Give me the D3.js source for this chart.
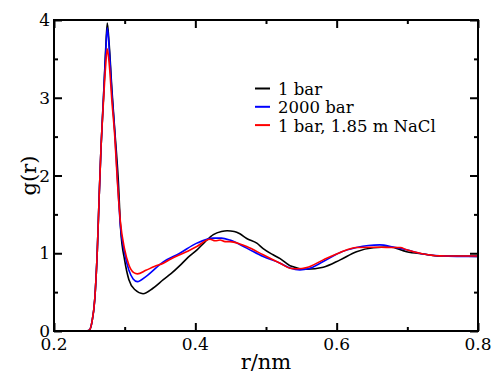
<!DOCTYPE html>
<html>
<head>
<meta charset="utf-8">
<script src="https://cdn.jsdelivr.net/npm/d3@7"></script>
<style>
  body { margin: 0; background: #fff; }
</style>
</head>
<body>
<div id="chart"></div>
<script>
// r (nm) sample positions and g(r) per series
var r1bar = [0.200, 0.245, 0.250, 0.2538, 0.2576, 0.2613, 0.264, 0.2665, 0.270, 0.273, 0.2754, 0.278, 0.282, 0.286, 0.2909, 0.2944, 0.300, 0.306, 0.3146, 0.326, 0.340, 0.3547, 0.366, 0.378, 0.390, 0.402, 0.414, 0.4255, 0.437, 0.445, 0.455, 0.463, 0.4727, 0.487, 0.496, 0.510, 0.520, 0.534, 0.5576, 0.581, 0.605, 0.628, 0.652, 0.675, 0.699, 0.7226, 0.746, 0.770, 0.800];
var g1bar = [0, 0, 0.01, 0.12, 0.40, 1.04, 1.75, 2.35, 3.00, 3.60, 3.96, 3.70, 3.10, 2.58, 1.95, 1.30, 0.91, 0.66, 0.53, 0.48, 0.55, 0.66, 0.74, 0.84, 0.95, 1.04, 1.15, 1.24, 1.28, 1.29, 1.28, 1.25, 1.19, 1.13, 1.06, 0.98, 0.93, 0.84, 0.795, 0.82, 0.915, 1.02, 1.07, 1.08, 1.02, 0.99, 0.966, 0.965, 0.96];

var r2000 = [0.200, 0.245, 0.250, 0.2538, 0.2576, 0.2613, 0.264, 0.2665, 0.270, 0.273, 0.2754, 0.278, 0.282, 0.286, 0.2898, 0.294, 0.300, 0.306, 0.312, 0.318, 0.330, 0.3547, 0.378, 0.402, 0.4255, 0.437, 0.449, 0.4727, 0.496, 0.520, 0.534, 0.548, 0.560, 0.581, 0.605, 0.628, 0.645, 0.661, 0.680, 0.699, 0.7226, 0.746, 0.770, 0.800];
var g2000 = [0, 0, 0.01, 0.12, 0.40, 1.04, 1.75, 2.35, 3.00, 3.55, 3.90, 3.65, 3.05, 2.55, 1.95, 1.35, 1.00, 0.78, 0.67, 0.635, 0.70, 0.89, 1.00, 1.13, 1.195, 1.195, 1.17, 1.066, 0.958, 0.872, 0.81, 0.786, 0.80, 0.893, 1.01, 1.073, 1.10, 1.108, 1.08, 1.044, 0.99, 0.966, 0.96, 0.96];

var rNaCl = [0.200, 0.245, 0.250, 0.2538, 0.2576, 0.2613, 0.264, 0.2665, 0.270, 0.273, 0.2754, 0.278, 0.282, 0.286, 0.2895, 0.294, 0.300, 0.306, 0.313, 0.318, 0.330, 0.342, 0.3547, 0.366, 0.378, 0.390, 0.402, 0.4208, 0.428, 0.435, 0.442, 0.449, 0.463, 0.4727, 0.496, 0.520, 0.534, 0.545, 0.5576, 0.581, 0.605, 0.628, 0.652, 0.670, 0.690, 0.699, 0.7226, 0.746, 0.770, 0.800];
var gNaCl = [0, 0, 0.01, 0.12, 0.40, 1.04, 1.75, 2.35, 2.95, 3.40, 3.63, 3.45, 2.95, 2.50, 1.95, 1.40, 1.05, 0.85, 0.75, 0.735, 0.78, 0.83, 0.872, 0.93, 0.98, 1.03, 1.086, 1.18, 1.16, 1.17, 1.15, 1.15, 1.12, 1.086, 0.98, 0.872, 0.808, 0.80, 0.816, 0.915, 1.01, 1.073, 1.078, 1.075, 1.073, 1.044, 0.99, 0.966, 0.965, 0.965];

var seriesNames = ['1 bar', '2000 bar', '1 bar, 1.85 m NaCl'];
var seriesColors = ['#000000', '#0000ff', '#ff0000'];

var xMajor = [0.2, 0.4, 0.6, 0.8];
var xMinor = [0.3, 0.5, 0.7];
var yMajor = [0, 1, 2, 3, 4];
var yMinor = [0.5, 1.5, 2.5, 3.5];

var series = [
  { name: seriesNames[0], color: seriesColors[0], r: r1bar, g: g1bar },
  { name: seriesNames[1], color: seriesColors[1], r: r2000, g: g2000 },
  { name: seriesNames[2], color: seriesColors[2], r: rNaCl, g: gNaCl }
];

var width = 494, height = 373;
var plotL = 54, plotR = 478, plotT = 20, plotB = 331;
var serif = 'DejaVu Serif';

var x = d3.scaleLinear().domain([0.2, 0.8]).range([plotL, plotR]);
var y = d3.scaleLinear().domain([0, 4]).range([plotB, plotT]);

var svg = d3.select('#chart').append('svg')
            .attr('width', width)
            .attr('height', height)
            .attr('font-family', serif);

svg.append('defs').append('clipPath')
   .attr('id', 'plotclip')
   .append('rect')
     .attr('x', plotL).attr('y', plotT)
     .attr('width', plotR - plotL).attr('height', plotB - plotT);

var line = d3.line()
             .x(function(d) { return x(d[0]); })
             .y(function(d) { return y(d[1]); })
             .curve(d3.curveMonotoneX);

svg.append('g')
   .attr('clip-path', 'url(#plotclip)')
   .selectAll('path')
   .data(series)
   .enter()
   .append('path')
     .attr('fill', 'none')
     .attr('stroke', function(d) { return d.color; })
     .attr('stroke-width', 1.6)
     .attr('stroke-linejoin', 'round')
     .attr('d', function(d) { return line(d.r.map(function(v, i) { return [v, d.g[i]]; })); });

// axes with inward ticks on all four sides
function tickAxis(axis, major, minor, transform) {
  var g = svg.append('g').attr('transform', transform);
  g.call(axis.tickValues(major).tickSize(-8).tickFormat(''));
  var m = svg.append('g').attr('transform', transform);
  m.call(axis.tickValues(minor).tickSize(-4).tickFormat(''));
  [g, m].forEach(function(s) {
    s.selectAll('.domain').remove();
    s.selectAll('line').attr('stroke', '#000').attr('stroke-width', 2);
  });
}
tickAxis(d3.axisBottom(x), xMajor, xMinor, 'translate(0,' + plotB + ')');
tickAxis(d3.axisTop(x), xMajor, xMinor, 'translate(0,' + plotT + ')');
tickAxis(d3.axisLeft(y), yMajor, yMinor, 'translate(' + plotL + ',0)');
tickAxis(d3.axisRight(y), yMajor, yMinor, 'translate(' + plotR + ',0)');

svg.append('rect')
   .attr('x', plotL).attr('y', plotT)
   .attr('width', plotR - plotL).attr('height', plotB - plotT)
   .attr('fill', 'none')
   .attr('stroke', '#000')
   .attr('stroke-width', 2);

svg.selectAll('text.xlab')
   .data(xMajor)
   .enter()
   .append('text')
     .attr('class', 'xlab')
     .attr('x', function(d) { return x(d); })
     .attr('y', 350)
     .attr('text-anchor', 'middle')
     .attr('font-size', 17)
     .text(function(d) { return d3.format('.1f')(d); });

svg.selectAll('text.ylab')
   .data(yMajor)
   .enter()
   .append('text')
     .attr('class', 'ylab')
     .attr('x', plotL - 4)
     .attr('y', function(d) { return y(d) + 6; })
     .attr('text-anchor', 'end')
     .attr('font-size', 17)
     .text(function(d) { return d; });

svg.append('text')
   .attr('x', (plotL + plotR) / 2)
   .attr('y', 369)
   .attr('text-anchor', 'middle')
   .attr('font-size', 21)
   .text('r/nm');

svg.append('text')
   .attr('transform', 'translate(36,' + ((plotT + plotB) / 2) + ') rotate(-90)')
   .attr('text-anchor', 'middle')
   .attr('font-size', 21)
   .text('g(r)');

var legend = svg.append('g');
legend.selectAll('line')
      .data(series)
      .enter()
      .append('line')
        .attr('x1', 255).attr('x2', 270)
        .attr('y1', function(d, i) { return 88.5 + i * 18.3; })
        .attr('y2', function(d, i) { return 88.5 + i * 18.3; })
        .attr('stroke', function(d) { return d.color; })
        .attr('stroke-width', 2);
legend.selectAll('text')
      .data(series)
      .enter()
      .append('text')
        .attr('x', 278)
        .attr('y', function(d, i) { return 95 + i * 18.3; })
        .attr('font-size', 16.5)
        .text(function(d) { return d.name; });
</script>
</body>
</html>
